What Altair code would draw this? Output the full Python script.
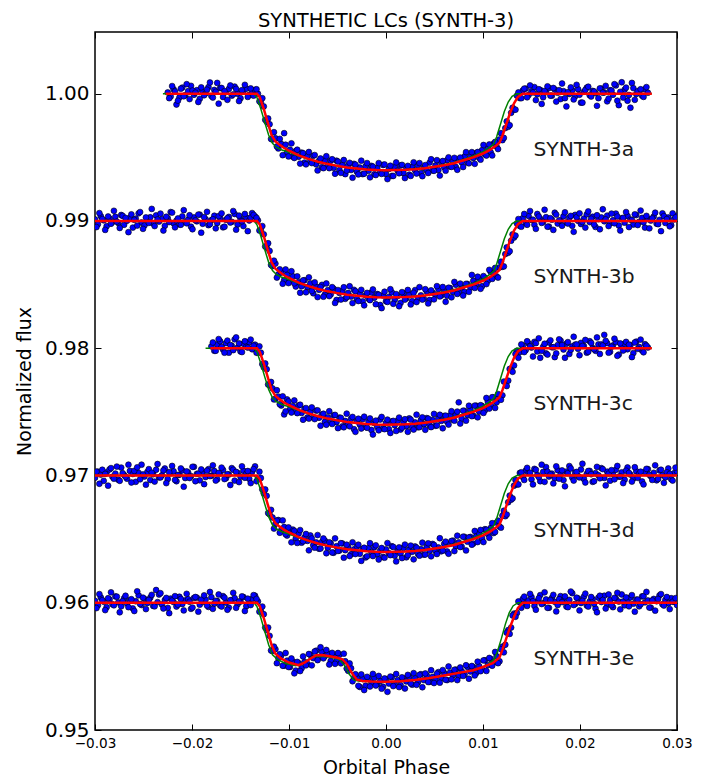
import altair as alt
import pandas as pd

# ---------------- data ----------------
# two interleaved sampling grids of the light curves, orbital phase in units of 1e-4
phase_grid = [
    -300, -297, -294, -291, -288, -285, -282, -279, -276, -273,
    -270, -267, -264, -261, -258, -255, -252, -249, -246, -243,
    -240, -237, -234, -231, -228, -225, -222, -219, -216, -213,
    -210, -207, -204, -201, -198, -195, -192, -189, -186, -183,
    -180, -177, -174, -171, -168, -165, -162, -159, -156, -153,
    -150, -147, -144, -141, -138, -135, -132, -129, -126, -123,
    -120, -117, -114, -111, -108, -105, -102, -99, -96, -93,
    -90, -87, -84, -81, -78, -75, -72, -69, -66, -63,
    -60, -57, -54, -51, -48, -45, -42, -39, -36, -33,
    -30, -27, -24, -21, -18, -15, -12, -9, -6, -3,
    0, 3, 6, 9, 12, 15, 18, 21, 24, 27,
    30, 33, 36, 39, 42, 45, 48, 51, 54, 57,
    60, 63, 66, 69, 72, 75, 78, 81, 84, 87,
    90, 93, 96, 99, 102, 105, 108, 111, 114, 117,
    120, 123, 126, 129, 132, 135, 138, 141, 144, 147,
    150, 153, 156, 159, 162, 165, 168, 171, 174, 177,
    180, 183, 186, 189, 192, 195, 198, 201, 204, 207,
    210, 213, 216, 219, 222, 225, 228, 231, 234, 237,
    240, 243, 246, 249, 252, 255, 258, 261, 264, 267,
    270, 273, 276, 279, 282, 285, 288, 291, 294, 297,
    300,
]
phase_grid2 = [
    -298.5, -295.5, -292.5, -289.5, -286.5, -283.5, -280.5, -277.5, -274.5, -271.5,
    -268.5, -265.5, -262.5, -259.5, -256.5, -253.5, -250.5, -247.5, -244.5, -241.5,
    -238.5, -235.5, -232.5, -229.5, -226.5, -223.5, -220.5, -217.5, -214.5, -211.5,
    -208.5, -205.5, -202.5, -199.5, -196.5, -193.5, -190.5, -187.5, -184.5, -181.5,
    -178.5, -175.5, -172.5, -169.5, -166.5, -163.5, -160.5, -157.5, -154.5, -151.5,
    -148.5, -145.5, -142.5, -139.5, -136.5, -133.5, -130.5, -127.5, -124.5, -121.5,
    -118.5, -115.5, -112.5, -109.5, -106.5, -103.5, -100.5, -97.5, -94.5, -91.5,
    -88.5, -85.5, -82.5, -79.5, -76.5, -73.5, -70.5, -67.5, -64.5, -61.5,
    -58.5, -55.5, -52.5, -49.5, -46.5, -43.5, -40.5, -37.5, -34.5, -31.5,
    -28.5, -25.5, -22.5, -19.5, -16.5, -13.5, -10.5, -7.5, -4.5, -1.5,
    1.5, 4.5, 7.5, 10.5, 13.5, 16.5, 19.5, 22.5, 25.5, 28.5,
    31.5, 34.5, 37.5, 40.5, 43.5, 46.5, 49.5, 52.5, 55.5, 58.5,
    61.5, 64.5, 67.5, 70.5, 73.5, 76.5, 79.5, 82.5, 85.5, 88.5,
    91.5, 94.5, 97.5, 100.5, 103.5, 106.5, 109.5, 112.5, 115.5, 118.5,
    121.5, 124.5, 127.5, 130.5, 133.5, 136.5, 139.5, 142.5, 145.5, 148.5,
    151.5, 154.5, 157.5, 160.5, 163.5, 166.5, 169.5, 172.5, 175.5, 178.5,
    181.5, 184.5, 187.5, 190.5, 193.5, 196.5, 199.5, 202.5, 205.5, 208.5,
    211.5, 214.5, 217.5, 220.5, 223.5, 226.5, 229.5, 232.5, 235.5, 238.5,
    241.5, 244.5, 247.5, 250.5, 253.5, 256.5, 259.5, 262.5, 265.5, 268.5,
    271.5, 274.5, 277.5, 280.5, 283.5, 286.5, 289.5, 292.5, 295.5, 298.5,
]

curve_names = ["SYNTH-3a", "SYNTH-3b", "SYNTH-3c", "SYNTH-3d", "SYNTH-3e"]
baselines = [1.00, 0.99, 0.98, 0.97, 0.96]
first_index = [25, 0, 40, 0, 0]    # first sample of each light curve on grid 1
first_index2 = [25, 0, 40, 0, 0]   # first sample of each light curve on grid 2

# flux minus the curve's baseline, in units of 1e-5 (grid 1)
dflux_a = [
    10, -22, 35, -85, -30, 48, -12, 20, 62, -8,
    28, -40, 15, 3, 52, -18, 30, 85, 44, -26,
    12, 38, -15, 56, 0, -35, 22, 40, -10, 18,
    30,
    0, -70, -100, -220, -240, -360, -350, -430, -395, -310,
    -462, -440, -495, -450, -495, -463, -541, -489, -531, -488,
    -555, -526, -577, -523, -563, -527, -582, -526, -600, -559,
    -632, -561, -599, -551, -613, -580, -632, -569, -606, -567,
    -633, -584, -620, -560, -631, -591, -646, -575, -605, -564,
    -624, -583, -636, -575, -603, -561, -624, -582, -604, -541,
    -603, -564, -600, -541, -577, -522, -572, -532, -576, -515,
    -539, -492, -540, -493, -505, -467, -503, -443, -477, -430,
    -462, -392, -415, -360, -365, -270, -260, -150, -125, -15,
    -35,
    25, 40, -10, 18, 52, -5, 30, -28, 12, 45,
    -15, 33, 8, -42, 20, -100, -2, 27, -20, 36,
    -70, 15, 48, -12, 22, 5, -35, 40, 10, -60,
    28, -8, 65, -90, 90, 32, -55, -110, 44, -3,
    20, -15, 35, 8,
]
dflux_b = [
    12, -25, 38, 5, -41, 20, -8, 33, -15, 47,
    -30, 2, 25, -52, 18, 60, -12, -35, 8, 29,
    -20, 44, -5, 15, -38, 22, 70, -18, 3, -27,
    36, -9, 11, -45, 28, -3, 50, -22, 14, -33,
    7, 41, -16, 24, -50, 9, 32, -7, 55, -28,
    18, -40, 26, 4, 62, 35,
    5, -75, -105, -210, -235, -355, -335, -420, -405, -465,
    -422, -470, -435, -515, -480, -513, -466, -519, -491, -568,
    -515, -541, -502, -578, -543, -577, -532, -621, -565, -549,
    -612, -566, -594, -541, -613, -570, -632, -584, -611, -562,
    -603, -574, -660, -585, -631, -596, -561, -620, -590, -644,
    -569, -608, -576, -630, -543, -606, -584, -612, -554, -621,
    -563, -579, -535, -586, -552, -587, -527, -557, -501, -560,
    -524, -557, -495, -523, -470, -497, -458, -513, -447, -470,
    -402, -412, -435, -365, -360, -260, -250, -155, -130, -20,
    -40,
    22, -14, 40, 8, -30, 55, 17, -6, 30, -44,
    10, 65, -20, 3, 37, -11, 26, -38, 48, 1,
    -24, 19, 52, -9, 33, -47, 14, 28, -2, 42,
    -17, 6, 58, -35, 21, -13, 39, 11, -28, 46,
    -7, 24, -52, 16, 3, 35, -21, 9, 60, -15,
    27, -33, 12, 40,
]
dflux_c = [
    15, -20, 30, 55, -10, 40, -35, 20, 70, 5,
    -25, 35, 12, 48, -8, 28,
    -35, -35, -150, -165, -290, -315, -400, -380, -450, -520,
    -402, -480, -455, -495, -450, -508, -476, -544, -501, -543,
    -490, -546, -522, -578, -543, -582, -527, -581, -545, -614,
    -572, -601, -554, -636, -573, -600, -557, -619, -576, -642,
    -588, -619, -560, -630, -586, -636, -576, -605, -570, -639,
    -579, -613, -551, -620, -583, -621, -564, -597, -549, -606,
    -563, -609, -550, -571, -532, -577, -527, -562, -521, -425,
    -554, -492, -525, -483, -530, -452, -498, -453, -487, -420,
    -447, -387, -425, -370, -370, -265, -255, -160, -135, -20,
    -30,
    20, -15, 38, 5, 50, -25, -75, 12, -40, 45,
    8, -70, 25, 60, -10, 35, -45, 15, 28, -5,
    42, 18, -35, 55, 2, -20, 30, 30, 105, 40,
    -28, 22, 48, -50, 15, 35, -8, 25, -38, 52,
    10, -18, 32, 6,
]
dflux_d = [
    -18, 30, 7, -42, 25, 48, -10, 15, -33, 62,
    4, -25, 36, 12, -50, 20, 85, -8, 28, -36,
    10, 45, -15, 2, 55, -28, 18, 33, -45, 6,
    40, -20, 24, -5, 68, 13, -38, 29, -12, 50,
    -2, 35, -30, 16, 44, -22, 8, 58, -40, 21,
    -9, 37, 14, -26, 30, 72,
    -25, -20, -140, -160, -305, -330, -380, -350, -430, -405,
    -472, -445, -425, -495, -455, -528, -486, -514, -471, -548,
    -525, -576, -522, -513, -568, -532, -607, -556, -590, -534,
    -587, -561, -619, -581, -558, -615, -577, -644, -571, -602,
    -563, -619, -590, -640, -581, -611, -556, -630, -595, -614,
    -569, -643, -581, -600, -558, -616, -579, -622, -564, -591,
    -538, -594, -565, -596, -537, -597, -537, -512, -556, -525,
    -559, -482, -520, -483, -535, -477, -453, -493, -422, -460,
    -412, -452, -370, -400, -315, -320, -210, -190, -80, -70,
    20,
    -12, 38, 20, -30, 52, 5, -45, 28, 66, -8,
    15, -22, 42, 9, -36, 31, 74, -16, 23, -4,
    47, -27, 13, 36, -50, 19, 2, 58, -19, 30,
    -41, 11, 45, -9, 25, -33, 63, 7, -24, 34,
    16, -47, 29, 50, -6, 21, -38, 40, 3, -15,
    55, -29, 18, 33,
]
dflux_e = [
    15, -20, 42, 8, -35, 26, -12, 50, 3, -28,
    35, -6, 20, -45, 12, 58, -18, 30, -2, 40,
    -25, 100, 65, -14, 22, -40, 33, 5, -30, 47,
    -10, 18, 28, -48, 38, 40, -15, 7, 25, -33,
    44, -8, 14, -22, 52, 1, -38, 20, 36, -12,
    9, 45, -27, 16, 30, 55,
    10, -65, -90, -215, -260, -380, -365, -435, -415, -495,
    -455, -505, -463, -533, -475, -515, -465, -480, -410, -435,
    -377, -430, -386, -419, -398, -457, -412, -457, -408, -464,
    -460, -535, -515, -590, -585, -662, -600, -652, -593, -629,
    -590, -640, -615, -660, -600, -635, -585, -644, -608, -647,
    -595, -618, -581, -644, -592, -624, -561, -608, -570, -622,
    -583, -609, -545, -591, -552, -608, -549, -569, -525, -576,
    -537, -563, -504, -540, -505, -552, -498, -523, -452, -490,
    -442, -468, -420, -460, -345, -330, -215, -195, -85, -80,
    5,
    30, -8, 18, 45, -25, 12, 60, -3, 26, -40,
    38, 7, -18, 52, 15, -30, 22, 75, -10, 34,
    -2, 48, -22, 11, 28, -45, 40, 6, 55, -15,
    20, -35, 33, 9, 65, -20, 14, 42, -7, 25,
    -28, 50, 3, 18, -38, 30, 12, 58, -12, 22,
    -5, 36, 8, -18,
]

# flux minus the curve's baseline, in units of 1e-5 (grid 2)
dflux2_a = [
    -35, 60, 18, -55, 40, -20, 75, -42, 25, 8,
    -65, 50, -12, 32, 88, -30, 15, -78, 45, 20,
    -48, 65, -5, 38, -58, 28, 70, -25, 42, -15,
    35, -60, -35, -205, -195, -355, -302, -415, -355, -483,
    -401, -493, -390, -505, -440, -549, -467, -555, -458, -545,
    -482, -603, -509, -585, -491, -585, -515, -629, -533, -622,
    -521, -604, -543, -660, -557, -634, -526, -628, -545, -657,
    -573, -639, -545, -630, -556, -671, -566, -646, -540, -625,
    -559, -663, -567, -646, -539, -627, -545, -648, -561, -623,
    -515, -606, -522, -643, -529, -605, -500, -575, -504, -598,
    -502, -576, -459, -547, -459, -551, -458, -518, -403, -486,
    -399, -485, -379, -435, -310, -347, -217, -248, -110, -125,
    10, -35,
    40, -28, 65, 10, -50, 35, -80, 22, 58, -15,
    45, -62, 28, 80, -35, 12, 50, -45, 70, -8,
    -70, 30, 55, -22, 18, -95, 42, 8, 62, -38,
    25, 75, -55, 15, -30, 48, -10, 85, -48, 20,
    35, -25, 52,
]
dflux2_b = [
    -48, 62, 15, -70, 35, -22, 80, -5, -55, 40,
    24, -88, 52, 9, -36, 70, -62, 28, -15, 95,
    -40, 12, 58, -75, 33, -8, 66, -50, 20, -30,
    85, -18, 45, -65, 5, 50, -92, 30, 72, -25,
    14, -58, 38, 60, -45, 22, -12, 78, -68, 42,
    -3, 55, -80, 26, 48,
    25, -75, -40, -200, -175, -345, -312, -445, -380, -493,
    -381, -488, -395, -490, -435, -564, -467, -560, -443, -550,
    -482, -598, -519, -595, -491, -590, -520, -644, -543, -617,
    -521, -599, -513, -645, -552, -629, -541, -663, -565, -622,
    -538, -654, -580, -685, -556, -636, -536, -651, -575, -670,
    -559, -618, -542, -656, -564, -637, -520, -618, -536, -648,
    -545, -616, -512, -593, -519, -635, -525, -600, -479, -573,
    -492, -586, -494, -557, -424, -526, -438, -533, -433, -496,
    -384, -455, -369, -445, -320, -357, -207, -238, -105, -115,
    15, -45,
    55, -30, 78, 10, -62, 35, -15, 88, -45, 22,
    -70, 50, 5, -38, 68, -20, 40, -85, 30, 60,
    -8, -52, 75, 18, -28, 45, -65, 92, 12, -40,
    58, -18, 35, -75, 25, 70, -48, 8, 52, -32,
    82, -10, 40, -58, 20, 65, -25, -80, 38, 15,
    -42, 60, 28,
]
dflux2_c = [
    45, -20, 72, 10, -35, 60, 25, -15, 85, 38,
    -30, 55, 5, 68, 20,
    -35, 15, -125, -120, -285, -265, -402, -330, -440, -378,
    -496, -418, -505, -410, -510, -444, -562, -470, -553, -465,
    -557, -488, -609, -515, -601, -495, -595, -524, -628, -547,
    -621, -514, -613, -540, -657, -554, -631, -538, -625, -552,
    -678, -569, -645, -540, -636, -561, -666, -571, -650, -545,
    -624, -558, -657, -561, -639, -522, -620, -543, -641, -553,
    -620, -516, -607, -523, -629, -530, -600, -495, -569, -498,
    -592, -491, -569, -452, -534, -451, -543, -448, -508, -391,
    -474, -385, -469, -360, -405, -262, -297, -163, -185, -45,
    -75, 30,
    -30, 55, 15, -65, 40, 78, -20, 35, -50, 62,
    8, -40, 70, 25, -75, 48, -12, 90, 30, -55,
    18, 65, -28, 42, -8, 85, -45, 22, 58, -35,
    12, 75, -60, 38, -18, 50, 28, -70, 45, -5,
    68, -32, 20,
]
dflux2_d = [
    30, -65, 45, 12, -80, 58, -25, 70, -42, 18,
    -10, 85, -55, 36, 64, -30, 8, -72, 50, 22,
    -48, 90, -15, 40, -60, 26, 75, -35, 4, 55,
    -88, 32, -20, 68, -45, 15, 48, -68, 38, -5,
    80, -40, 20, 62, -28, 10, -75, 45, 28, -52,
    72, -18, 35, -60, 50,
    -45, 30, -110, -110, -295, -270, -417, -355, -450, -353,
    -461, -408, -525, -435, -530, -429, -517, -460, -588, -495,
    -567, -468, -574, -495, -611, -525, -605, -494, -593, -532,
    -646, -544, -633, -525, -617, -544, -671, -568, -635, -532,
    -633, -549, -660, -570, -646, -531, -626, -561, -675, -565,
    -649, -543, -627, -551, -659, -567, -630, -528, -621, -533,
    -635, -546, -617, -493, -589, -520, -615, -515, -594, -473,
    -562, -481, -589, -487, -544, -436, -523, -428, -523, -426,
    -489, -375, -444, -355, -410, -277, -307, -158, -180, -35,
    -70, 25,
    -35, 60, 22, -70, 45, -12, 85, -50, 30, 8,
    -62, 72, -25, 40, -85, 18, 55, -40, 28, -15,
    92, -55, 35, 10, -45, 68, -22, 50, -78, 15,
    42, -30, 75, -8, -60, 38, 20, -48, 65, -18,
    30, -70, 52, 5, -35, 80, -28, 45, -58, 25,
    12, -40, 62,
]
dflux2_e = [
    -42, 68, 20, -58, 35, 82, -20, 48, -75, 12,
    55, -35, 28, -65, 90, -10, 40, -50, 22, 62,
    -28, 5, 75, -45, 38, -82, 18, 52, -15, 30,
    -60, 70, 8, -38, 45, -70, 25, 58, -22, 85,
    -48, 15, 65, -30, 40, -55, 20, 78, -40, 10,
    50, -65, 32, -18, 60,
    30, -70, -30, -195, -195, -375, -345, -475, -405, -495,
    -395, -505, -438, -555, -465, -537, -422, -492, -403, -492,
    -383, -451, -350, -437, -371, -485, -394, -480, -395, -476,
    -400, -517, -477, -617, -562, -653, -563, -686, -582, -658,
    -559, -650, -575, -675, -595, -700, -580, -655, -560, -663,
    -586, -674, -567, -635, -553, -645, -567, -664, -556, -623,
    -530, -631, -557, -628, -529, -605, -501, -602, -527, -608,
    -509, -575, -491, -597, -497, -571, -463, -538, -453, -536,
    -434, -495, -387, -475, -365, -390, -235, -245, -100, -110,
    10, -40,
    48, -25, 70, 12, -55, 35, -10, 82, -40, 20,
    62, -68, 28, 5, 50, -35, 88, -18, 40, -60,
    15, 72, -30, 45, -8, -75, 55, 22, -45, 65,
    -20, 38, 78, -52, 10, 42, -28, 60, -70, 25,
    -12, 52, 85, -38, 18, -62, 30, 68, -22, 45,
    -50, 8, 36,
]
dflux = [dflux_a, dflux_b, dflux_c, dflux_d, dflux_e]
dflux2 = [dflux2_a, dflux2_b, dflux2_c, dflux2_d, dflux2_e]

# model curves (vertices): phase in 1e-4, flux minus baseline in 1e-5
red_ph = [-300, -133, -130, -126, -122, -118, -114, -110, -105, -100,
          -90, -80, -70, -60, -50, -40, -30, -20, -10, 0,
          10, 20, 30, 40, 50, 60, 70, 80, 90, 100,
          108, 114, 117, 120, 124, 128, 132, 136, 141, 300]
red_fl = [0, 0, -30, -120, -225, -325, -375, -400, -427, -448,
          -485, -512, -535, -553, -567, -580, -588, -595, -599, -601,
          -600, -598, -593, -586, -574, -562, -546, -523, -500, -470,
          -437, -405, -385, -330, -240, -150, -75, -25, 0, 0]
green_ph = [-300, -136, -133, -129, -125, -121, -117, -113, -108, -100,
            -90, -80, -70, -60, -50, -40, -30, -20, -10, 0,
            10, 20, 30, 40, 50, 60, 70, 80, 90, 100,
            106, 111, 114, 118, 122, 126, 130, 135, 300]
green_fl = [0, 0, -30, -120, -225, -325, -390, -420, -440, -460,
            -490, -515, -537, -554, -568, -580, -588, -595, -599, -601,
            -600, -597, -591, -583, -571, -557, -540, -517, -490, -455,
            -425, -395, -340, -240, -140, -65, -20, 0, 0]
e_red_ph = [-300, -133, -130, -126, -122, -118, -114, -108, -100, -90,
            -84, -78, -72, -66, -58, -50, -45, -40, -35, -30,
            -24, -15, 0, 15, 30, 45, 60, 75, 90, 100,
            110, 117, 120, 124, 128, 132, 136, 141, 300]
e_red_fl = [0, 0, -30, -120, -225, -330, -400, -440, -470, -490,
            -470, -440, -412, -411, -420, -432, -444, -485, -555, -605,
            -615, -619, -620, -617, -607, -592, -572, -551, -530, -505,
            -475, -430, -370, -280, -190, -110, -40, 0, 0]
e_green_ph = [-300, -136, -133, -129, -125, -121, -117, -111, -103, -93,
              -87, -81, -75, -69, -61, -53, -48, -43, -38, -33,
              -27, -18, 0, 15, 30, 45, 60, 75, 90, 100,
              106, 112, 115, 119, 123, 127, 131, 136, 300]
e_green_fl = [0, 0, -30, -120, -225, -330, -410, -450, -478, -495,
              -478, -450, -425, -420, -425, -435, -447, -490, -560, -608,
              -616, -619, -620, -617, -607, -592, -572, -551, -530, -505,
              -480, -440, -380, -280, -170, -80, -25, 0, 0]
red_models = [(red_ph, red_fl)] * 4 + [(e_red_ph, e_red_fl)]
green_models = [(green_ph, green_fl)] * 4 + [(e_green_ph, e_green_fl)]
red_start = [-227, -300, -181, -300, -300]
green_start = [-230, -300, -186, -300, -300]
line_end = [274, 300, 274, 300, 300]

label_phase = 0.0152
label_dflux = -0.0044

x_ticks = [-0.03, -0.02, -0.01, 0.0, 0.01, 0.02, 0.03]
y_ticks = [0.95, 0.96, 0.97, 0.98, 0.99, 1.00]

for k in range(5):
    assert first_index[k] + len(dflux[k]) <= len(phase_grid), curve_names[k]
    assert first_index2[k] + len(dflux2[k]) <= len(phase_grid2), curve_names[k]
assert len(red_ph) == len(red_fl) and len(green_ph) == len(green_fl)
assert len(e_red_ph) == len(e_red_fl) and len(e_green_ph) == len(e_green_fl)

# ---------------- tables ----------------
pts_rows = []
for k in range(5):
    for grid, start, vals in ((phase_grid, first_index[k], dflux[k]),
                              (phase_grid2, first_index2[k], dflux2[k])):
        for j, v in enumerate(vals):
            pts_rows.append({"curve": curve_names[k], "phase": grid[start + j] * 1e-4,
                             "flux": baselines[k] + v * 1e-5})
pts_df = pd.DataFrame(pts_rows)


def model_rows(name, base, ph, fl, lo, hi):
    rows = [{"curve": name, "phase": lo * 1e-4, "flux": base}]
    for p, f in zip(ph, fl):
        if lo < p < hi:
            rows.append({"curve": name, "phase": p * 1e-4, "flux": base + f * 1e-5})
    rows.append({"curve": name, "phase": hi * 1e-4, "flux": base})
    return rows


red_rows, green_rows = [], []
for k in range(5):
    red_rows += model_rows(curve_names[k], baselines[k], *red_models[k], red_start[k], line_end[k])
    green_rows += model_rows(curve_names[k], baselines[k], *green_models[k], green_start[k], line_end[k])
red_df = pd.DataFrame(red_rows)
green_df = pd.DataFrame(green_rows)

lab_df = pd.DataFrame({"curve": curve_names,
                       "phase": [label_phase] * 5,
                       "flux": [b + label_dflux for b in baselines]})

# ---------------- chart ----------------
FONT = "DejaVu Sans"
TICK = 6
xs = alt.Scale(domain=[-0.03, 0.03], nice=False, zero=False)
ys = alt.Scale(domain=[0.95, 1.00485], nice=False, zero=False)

x_bottom = alt.Axis(orient="bottom", values=x_ticks, format=".2f", tickSize=TICK, offset=-TICK,
                    domain=False, grid=False, tickColor="black", tickWidth=1,
                    labelFont=FONT, labelFontSize=13.6, labelColor="black", labelPadding=6,
                    labelFlush=False, labelOverlap=False,
                    title="Orbital Phase", titleFont=FONT, titleFontSize=19,
                    titleFontWeight="normal", titleColor="black", titlePadding=9)
y_left = alt.Axis(orient="left", values=y_ticks, format=".2f", tickSize=TICK, offset=-TICK,
                  domain=False, grid=False, tickColor="black", tickWidth=1,
                  labelFont=FONT, labelFontSize=20, labelColor="black", labelPadding=6,
                  labelFlush=False, labelOverlap=False,
                  title="Normalized flux", titleFont=FONT, titleFontSize=19,
                  titleFontWeight="normal", titleColor="black", titlePadding=10)
x_top = alt.Axis(orient="top", values=x_ticks, tickSize=TICK, offset=-TICK, domain=False,
                 grid=False, labels=False, tickColor="black", tickWidth=1, title="")
y_right = alt.Axis(orient="right", values=y_ticks, tickSize=TICK, offset=-TICK, domain=False,
                   grid=False, labels=False, tickColor="black", tickWidth=1, title="")

pts = alt.Chart(pts_df).mark_circle(size=34, color="#0000ff", stroke="#000000",
                                    strokeWidth=0.6, opacity=1, clip=True).encode(
    x=alt.X("phase:Q", scale=xs, axis=x_bottom),
    y=alt.Y("flux:Q", scale=ys, axis=y_left),
    detail="curve:N",
)
green = alt.Chart(green_df).mark_line(color="#008000", strokeWidth=1.5, clip=True).encode(
    x=alt.X("phase:Q", scale=xs, axis=None),
    y=alt.Y("flux:Q", scale=ys, axis=None),
    detail="curve:N",
)
red = alt.Chart(red_df).mark_line(color="#ff0000", strokeWidth=2.5, clip=True).encode(
    x=alt.X("phase:Q", scale=xs, axis=None),
    y=alt.Y("flux:Q", scale=ys, axis=None),
    detail="curve:N",
)
labels = alt.Chart(lab_df).mark_text(align="left", baseline="middle", font=FONT,
                                     fontSize=20.3, color="#1a1a1a").encode(
    x=alt.X("phase:Q", scale=xs, axis=x_top),
    y=alt.Y("flux:Q", scale=ys, axis=y_right),
    text="curve:N",
)

chart = alt.layer(pts, green, red, labels).resolve_axis(
    x="independent", y="independent"
).properties(
    width=582, height=698,
    padding={"left": 87, "top": 24, "right": 30, "bottom": 48},
    autosize=alt.AutoSizeParams(type="none"),
    title=alt.TitleParams(text="SYNTHETIC LCs (SYNTH-3)", font=FONT, fontSize=19.5,
                          fontWeight="normal", color="black", anchor="middle", offset=0),
    background="white",
).configure_view(stroke="black", strokeWidth=1.5)

chart.save("out.html", embed_options={"renderer": "svg", "actions": False})
